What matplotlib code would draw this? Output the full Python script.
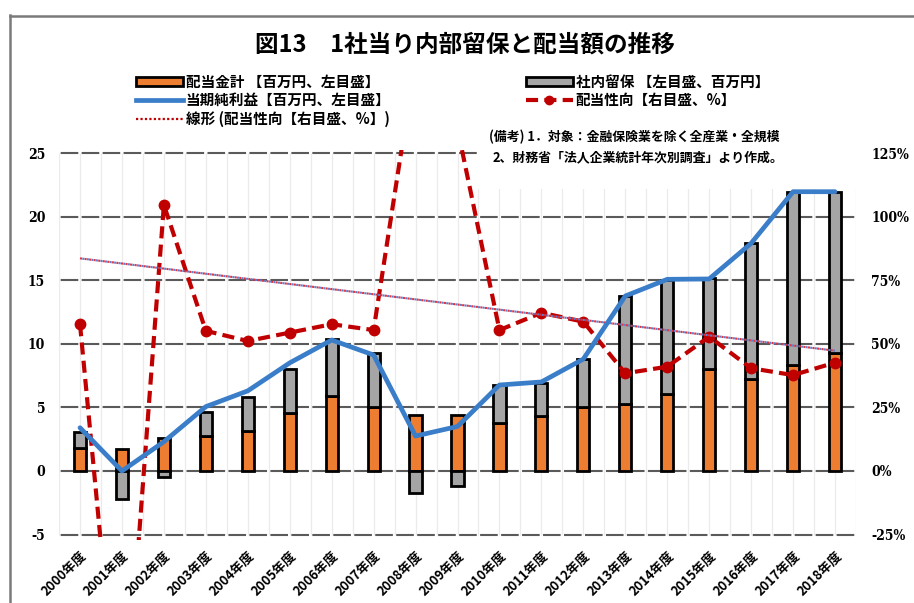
import matplotlib
matplotlib.use("Agg")
import matplotlib.pyplot as plt
from matplotlib.patches import Rectangle, Patch
from matplotlib.lines import Line2D
import matplotlib.transforms as mtransforms
import numpy as np

# ---------------- data ----------------
years = ["2000年度", "2001年度", "2002年度", "2003年度", "2004年度", "2005年度",
         "2006年度", "2007年度", "2008年度", "2009年度", "2010年度", "2011年度",
         "2012年度", "2013年度", "2014年度", "2015年度", "2016年度", "2017年度",
         "2018年度"]
dividends = [1.8, 1.75, 2.6, 2.75, 3.15, 4.53, 5.9, 5.06, 4.4, 4.4, 3.75, 4.32,
             5.06, 5.24, 6.05, 8.04, 7.2, 8.33, 9.25]          # 配当金計 (百万円)
retained = [1.27, -2.2, -0.5, 1.91, 2.65, 3.47, 4.5, 4.19, -1.75, -1.2, 3.05,
            2.62, 3.72, 8.52, 8.95, 7.11, 10.75, 13.63, 12.71]  # 社内留保 (百万円)
net_income = [3.4, 0.0, 2.3, 5.06, 6.3, 8.5, 10.3, 9.12, 2.75, 3.5, 6.76, 7.0,
              8.8, 13.76, 15.07, 15.1, 17.9, 21.96, 21.96]     # 当期純利益 (百万円)
payout = [57.7, -115.0, 104.6, 55.1, 51.1, 54.4, 57.7, 55.4, 162.0, 134.6,
          55.4, 62.2, 58.7, 38.4, 41.0, 52.8, 40.4, 37.7, 42.6]  # 配当性向 (%)
trend_values = [83.6, 47.3]   # 線形(配当性向) at first and last year

left_ticks = [-5, 0, 5, 10, 15, 20, 25]
right_ticks = [-25, 0, 25, 50, 75, 100, 125]

title = "図13　1社当り内部留保と配当額の推移"
legend_labels = ["配当金計 【百万円、左目盛】", "当期純利益【百万円、左目盛】",
                 "線形 (配当性向【右目盛、%】)", "社内留保 【左目盛、百万円】",
                 "配当性向【右目盛、%】"]
note1 = "(備考) 1．対象：金融保険業を除く全産業・全規模"
note2 = "2、財務省「法人企業統計年次別調査」より作成。"

# ---------------- style ----------------
ORANGE = "#ED7D31"
GRAY = "#A5A5A5"
BLUE = "#3A7DC9"
RED = "#C00000"
CJK = ["Noto Sans CJK JP", "DejaVu Sans"]

W, H = 914, 603
fig = plt.figure(figsize=(W / 100, H / 100), dpi=100)
fig.patch.set_facecolor("white")


def fx(px):
    return px / W


def fy(py):
    return 1 - py / H


ax_l, ax_r, ax_t, ax_b = 59.03, 855.97, 150.5, 540.3
pos = [fx(ax_l), fy(ax_b), fx(ax_r) - fx(ax_l), fy(ax_t) - fy(ax_b)]
ax = fig.add_axes(pos)
ax.set_xlim(-0.5, len(years) - 0.5)
ax.set_ylim(-5.45, 25.2)
ax2 = ax.twinx()
ax2.set_ylim(-27.25, 126)
ax3 = fig.add_axes(pos, sharex=ax, sharey=ax)
ax3.axis("off")

ax.set_zorder(1)
ax2.set_zorder(2)
ax3.set_zorder(3)
ax2.patch.set_visible(False)
ax3.patch.set_visible(False)

for a in (ax, ax2):
    for s in a.spines.values():
        s.set_visible(False)

x = np.arange(len(years))

# grid lines
lw_grid = 1.5
per = (ax_r - ax_l) / len(years) / 2 / (lw_grid * 100 / 72)
on = per * 0.84
off = per - on
for v in left_ticks:
    ax.axhline(v, color="#5a5a5a", lw=lw_grid,
               linestyle=(on + off / 2, (on, off)), zorder=0.5)
ax.vlines(np.arange(-0.5, len(years), 0.5), -5, 25, color="#ebebeb", lw=0.9,
          zorder=0.3)

# bars
bw = 0.29
ax.bar(x, dividends, width=bw, color=ORANGE, edgecolor="black", lw=2,
       zorder=2)
bottoms = [d if r >= 0 else 0 for d, r in zip(dividends, retained)]
ax.bar(x, retained, width=bw, bottom=bottoms, color=GRAY, edgecolor="black",
       lw=2, zorder=2)

# payout ratio (right axis)
red_ls = (0, (2.9, 1.5))
ax2.plot(x, payout, color=RED, lw=3, linestyle=red_ls, marker="o", ms=7.5,
         dash_capstyle="butt", zorder=3)
# linear trend
tx = [x[0], x[-1]]
ax2.plot(tx, trend_values, color="#E8313A", lw=1.5, linestyle=(0, (1, 1.2)),
         zorder=4)
ax2.plot(tx, trend_values, color="#5B7FD0", lw=1.5, linestyle=(1.1, (1, 1.2)),
         zorder=4)

# net income (left axis)
ax3.plot(x, net_income, color=BLUE, lw=3.4, solid_joinstyle="round",
         solid_capstyle="round", zorder=5)

# ticks
num_font = dict(family="DejaVu Serif", weight="bold", size=10,
                stretch="condensed")
ax.set_yticks(left_ticks)
ax.set_yticklabels([str(v) for v in left_ticks], fontdict=num_font)
ax.tick_params(axis="y", length=0, pad=10)
ax2.set_yticks(right_ticks)
ax2.set_yticklabels([f"{v}%" for v in right_ticks], fontdict=num_font)
ax2.tick_params(axis="y", length=0, pad=11)
ax.set_xticks([])

trans = mtransforms.blended_transform_factory(ax.transData, ax.transAxes)
dx = 4 / ((ax_r - ax_l) / len(years))
ylab = -(553 - ax_b) / (ax_b - ax_t)
for i, lab in enumerate(years):
    ax.text(i + dx, ylab, lab, transform=trans, rotation=45,
            rotation_mode="anchor", ha="right", va="center", fontsize=9.3,
            fontweight="bold", family=CJK, clip_on=False)

# legend
handles = [
    Patch(facecolor=ORANGE, edgecolor="black", lw=2),
    Line2D([], [], color=BLUE, lw=3.4),
    Line2D([], [], color=RED, lw=1.6, linestyle=(0, (1, 1))),
    Patch(facecolor=GRAY, edgecolor="black", lw=2),
    Line2D([], [], color=RED, lw=3, linestyle=red_ls, marker="o", ms=6),
]
fig.legend(handles, legend_labels, ncol=2, loc="upper left",
           bbox_to_anchor=(fx(136), fy(74)), frameon=False,
           prop=dict(family=CJK, weight="bold", size=10.5),
           handlelength=3.2, handleheight=0.6, handletextpad=0.2,
           columnspacing=9.3, labelspacing=0.15, borderpad=0,
           borderaxespad=0)

# title
fig.text(fx(465), fy(45), title, ha="center", va="center", fontsize=17,
         fontweight="bold", family=CJK)

# note box
fig.add_artist(Rectangle((fx(477), fy(189)), fx(858) - fx(477),
                         fy(122) - fy(189), transform=fig.transFigure,
                         facecolor="white", edgecolor="none", zorder=10))
fig.text(fx(489), fy(137), note1, ha="left", va="center", fontsize=9.3,
         fontweight="bold", family=CJK, zorder=11)
fig.text(fx(493), fy(157), note2, ha="left", va="center", fontsize=9.3,
         fontweight="bold", family=CJK, zorder=11)

# outer frame
fig.add_artist(Line2D([fx(9.5), fx(9.5)], [fy(15), 0], color="#7a7a7a",
                      lw=1.8, transform=fig.transFigure))
fig.add_artist(Line2D([fx(9.5), 1], [fy(15.5), fy(15.5)], color="#7a7a7a",
                      lw=1.8, transform=fig.transFigure))

fig.savefig("out.png", dpi=100)
